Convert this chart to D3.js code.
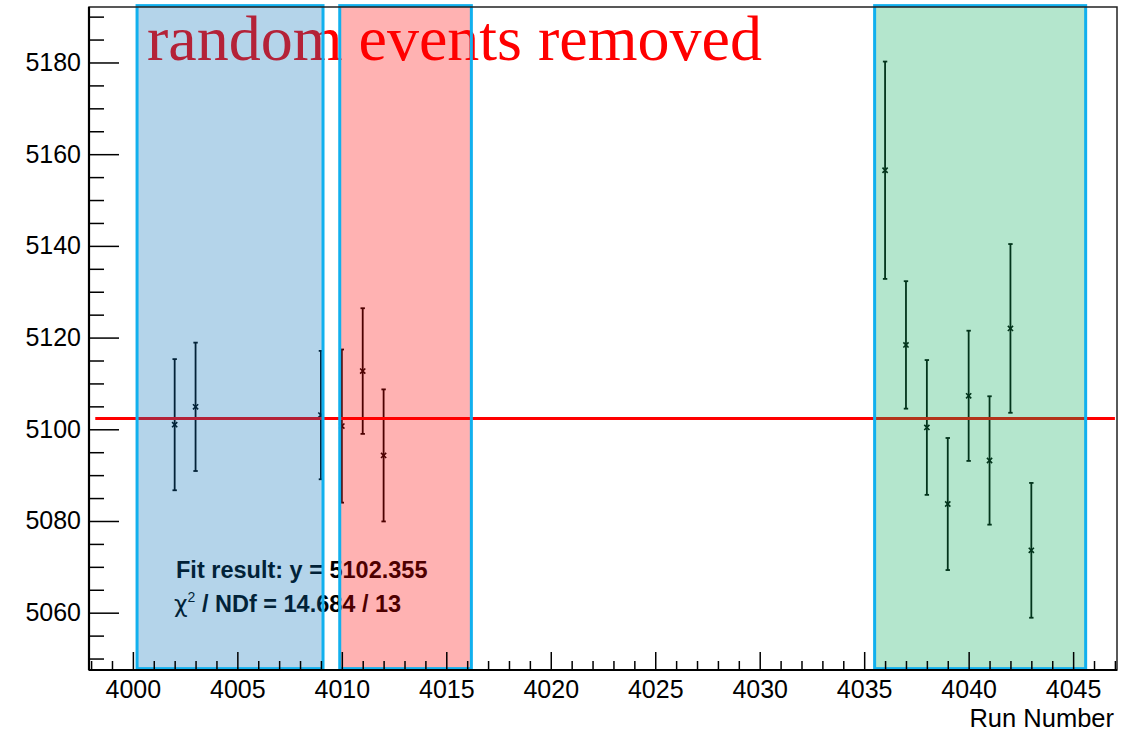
<!DOCTYPE html>
<html>
<head>
<meta charset="utf-8">
<script src="https://cdn.jsdelivr.net/npm/d3@7"></script>
<style>
    html, body { margin: 0; padding: 0; background: #fff; }
    #graph-view { display: block; }
</style>
</head>
<body>
<svg id="graph-view" width="1140" height="732"></svg>
<script>
// runs and fitted values per run
const runs = [4002, 4003, 4009, 4010, 4011, 4012, 4036, 4037, 4038, 4039, 4040, 4041, 4042, 4043];
const values = [5101.0, 5104.9, 5103.1, 5100.7, 5112.7, 5094.3, 5156.5, 5118.4, 5100.4, 5083.7, 5107.3, 5093.2, 5122.0, 5073.6];
const errors = [14.3, 14.0, 14.0, 16.7, 13.7, 14.4, 23.7, 13.9, 14.7, 14.4, 14.2, 14.0, 18.4, 14.7];

// constant fit
const fitValue = 5102.355;
const fitRange = [3998.2, 4047.0];
const fitLines = ["Fit result: y = 5102.355", " / NDf = 14.684 / 13"];

// highlighted run ranges (x from, x to)
const regionStart = [4000.2, 4009.9, 4035.5];
const regionEnd = [4009.1, 4016.2, 4045.6];
const regionColors = ["rgb(7,112,185)", "rgb(255,0,0)", "rgb(5,172,88)"];
const regionY = [5047.8, 5192.4];

const xDomain = [3997.9, 4047.1];
const yDomain = [5047.5, 5192.1];
const xMajorTicks = [4000, 4005, 4010, 4015, 4020, 4025, 4030, 4035, 4040, 4045];
const yMajorTicks = [5060, 5080, 5100, 5120, 5140, 5160, 5180];

const titleText = "random events removed";
const xTitle = "Run Number";

class RunPlot {
    constructor(containerId) {
        this.svg = d3.select(`#${containerId}`);
        this.left = 89;
        this.right = 1117;
        this.top = 7;
        this.bottom = 670;
        this.labelFont = "'Liberation Sans', Arial, Helvetica, sans-serif";

        this.xScale = d3.scaleLinear().domain(xDomain).range([this.left, this.right]);
        this.yScale = d3.scaleLinear().domain(yDomain).range([this.bottom, this.top]);

        this.points = runs.map((r, i) => ({ run: r, y: values[i], err: errors[i] }));
        this.redraw();
    }

    redraw() {
        this.svg.selectAll("*").remove();
        this.drawTitle();
        this.drawPoints();
        this.drawFit();
        this.drawFitText();
        this.drawRegions();
        this.drawAxes();
    }

    drawTitle() {
        this.svg.append("text")
            .attr("x", 147)
            .attr("y", 60)
            .attr("font-family", "'Liberation Serif', 'Times New Roman', serif")
            .attr("font-size", 64)
            .attr("fill", "#ff0000")
            .text(titleText);
    }

    drawPoints() {
        const g = this.svg.append("g").attr("stroke", "#000").attr("fill", "none");
        const cap = 2.2;
        const mk = 2.6;

        g.selectAll(".bar")
            .data(this.points)
            .join("line")
            .attr("class", "bar")
            .attr("x1", d => this.xScale(d.run))
            .attr("x2", d => this.xScale(d.run))
            .attr("y1", d => this.yScale(d.y + d.err))
            .attr("y2", d => this.yScale(d.y - d.err))
            .attr("stroke-width", 1.8);

        [1, -1].forEach(sign => {
            g.selectAll(`.cap${sign}`)
                .data(this.points)
                .join("line")
                .attr("x1", d => this.xScale(d.run) - cap)
                .attr("x2", d => this.xScale(d.run) + cap)
                .attr("y1", d => this.yScale(d.y + sign * d.err))
                .attr("y2", d => this.yScale(d.y + sign * d.err))
                .attr("stroke-width", 1.8);
        });

        g.selectAll(".marker")
            .data(this.points)
            .join("path")
            .attr("class", "marker")
            .attr("d", d => {
                const x = this.xScale(d.run), y = this.yScale(d.y);
                return `M${x - mk},${y - mk}L${x + mk},${y + mk}M${x - mk},${y + mk}L${x + mk},${y - mk}`;
            })
            .attr("stroke-width", 1.6);
    }

    drawFit() {
        this.svg.append("line")
            .attr("x1", this.xScale(fitRange[0]))
            .attr("x2", this.xScale(fitRange[1]))
            .attr("y1", this.yScale(fitValue))
            .attr("y2", this.yScale(fitValue))
            .attr("stroke", "#ff0000")
            .attr("stroke-width", 3);
    }

    drawFitText() {
        const g = this.svg.append("g")
            .attr("font-family", this.labelFont)
            .attr("font-weight", "bold")
            .attr("font-size", 23.5)
            .attr("fill", "#000");

        g.append("text").attr("x", 176).attr("y", 578).text(fitLines[0]);

        const t = g.append("text").attr("x", 174).attr("y", 612);
        t.append("tspan")
            .attr("font-family", "'DejaVu Sans', sans-serif")
            .attr("font-weight", "normal")
            .text("χ");
        t.append("tspan")
            .attr("font-size", 14)
            .attr("font-weight", "normal")
            .attr("dy", -10)
            .text("2");
        t.append("tspan")
            .attr("dy", 10)
            .text(fitLines[1]);
    }

    drawRegions() {
        const regions = regionStart.map((s, i) => ({ x0: s, x1: regionEnd[i], color: regionColors[i] }));
        this.svg.selectAll(".region")
            .data(regions)
            .join("rect")
            .attr("class", "region")
            .attr("x", d => this.xScale(d.x0))
            .attr("y", this.yScale(regionY[1]))
            .attr("width", d => this.xScale(d.x1) - this.xScale(d.x0))
            .attr("height", this.yScale(regionY[0]) - this.yScale(regionY[1]))
            .attr("fill", d => d.color)
            .attr("fill-opacity", 0.3)
            .attr("stroke", "#11b0ee")
            .attr("stroke-width", 3);
    }

    drawAxes() {
        // frame
        this.svg.append("rect")
            .attr("x", this.left)
            .attr("y", this.top)
            .attr("width", this.right - this.left)
            .attr("height", this.bottom - this.top)
            .attr("fill", "none")
            .attr("stroke", "#222")
            .attr("stroke-width", 1.5);

        const xMinor = d3.range(3998, 4048, 1).filter(v => v % 5 !== 0);
        const yMinor = d3.range(5050, 5195, 5).filter(v => v % 20 !== 0);

        const xAxes = [
            d3.axisBottom(this.xScale).tickValues(xMajorTicks).tickSize(-18).tickPadding(10).tickFormat(d3.format("d")),
            d3.axisBottom(this.xScale).tickValues(xMinor).tickSize(-9).tickFormat("")
        ];
        const yAxes = [
            d3.axisLeft(this.yScale).tickValues(yMajorTicks).tickSize(-30).tickPadding(8).tickFormat(d3.format("d")),
            d3.axisLeft(this.yScale).tickValues(yMinor).tickSize(-15).tickFormat("")
        ];

        xAxes.forEach(axis => {
            this.svg.append("g")
                .attr("transform", `translate(0, ${this.bottom})`)
                .call(axis)
                .call(g => g.select(".domain").remove())
                .call(g => g.selectAll(".tick line").attr("stroke", "#000").attr("stroke-width", 1.5))
                .call(g => g.selectAll(".tick text").attr("fill", "#000").attr("font-size", 25).attr("font-family", this.labelFont));
        });
        yAxes.forEach(axis => {
            this.svg.append("g")
                .attr("transform", `translate(${this.left}, 0)`)
                .call(axis)
                .call(g => g.select(".domain").remove())
                .call(g => g.selectAll(".tick line").attr("stroke", "#000").attr("stroke-width", 1.5))
                .call(g => g.selectAll(".tick text").attr("fill", "#000").attr("font-size", 25).attr("font-family", this.labelFont));
        });

        // thicker axis lines
        this.svg.append("line")
            .attr("x1", this.left).attr("x2", this.right)
            .attr("y1", this.bottom).attr("y2", this.bottom)
            .attr("stroke", "#000").attr("stroke-width", 2.2);
        this.svg.append("line")
            .attr("x1", this.left).attr("x2", this.left)
            .attr("y1", this.top).attr("y2", this.bottom)
            .attr("stroke", "#000").attr("stroke-width", 2.2);

        this.svg.append("text")
            .attr("x", 1114)
            .attr("y", 727)
            .attr("text-anchor", "end")
            .attr("font-family", this.labelFont)
            .attr("font-size", 25.5)
            .attr("fill", "#000")
            .text(xTitle);
    }
}

let plot;
document.addEventListener("DOMContentLoaded", function () {
    plot = new RunPlot("graph-view");
});
</script>
</body>
</html>
